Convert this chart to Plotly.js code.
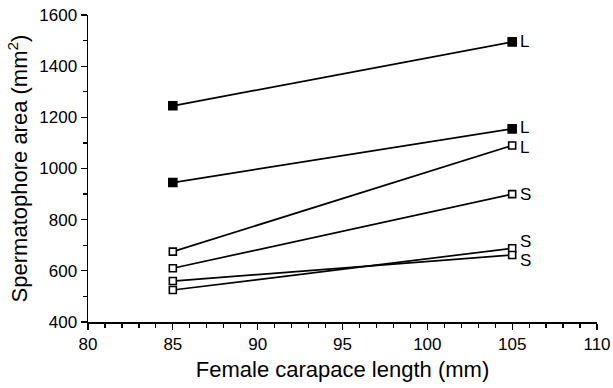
<!DOCTYPE html>
<html>
<head>
<meta charset="utf-8">
<script src="https://cdn.plot.ly/plotly-3.0.1.min.js"></script>
<style>html,body{margin:0;padding:0;background:#fff;}#chart{width:613px;height:388px;}</style>
</head>
<body>
<div id="chart"></div>
<script>
// Data
const xLengths = [85, 105];
const seriesNames = ["L1", "L2", "L3", "S1", "S2", "S3"];
const seriesLabels = ["L", "L", "L", "S", "S", "S"];
const seriesFilled = [true, true, false, false, false, false];
const areaL1 = [1245, 1495];
const areaL2 = [945, 1155];
const areaL3 = [675, 1090];
const areaS1 = [610, 900];
const areaS2 = [525, 688];
const areaS3 = [560, 662];
const seriesValues = [areaL1, areaL2, areaL3, areaS1, areaS2, areaS3];
const labelShift = [0, 1, -2, 0, 7, -6];

const FONT = "Liberation Sans, Arial, Helvetica, sans-serif";

const traces = seriesValues.map((vals, i) => ({
  type: "scatter",
  mode: "lines+markers",
  name: seriesNames[i],
  x: xLengths,
  y: vals,
  line: {color: "#000", width: 1.7},
  marker: {
    symbol: "square",
    size: seriesFilled[i] ? 8 : 7,
    color: seriesFilled[i] ? "#000" : "#fff",
    line: {color: "#000", width: 1.6}
  },
  showlegend: false,
  hoverinfo: "skip"
}));

const annotations = seriesValues.map((vals, i) => ({
  x: xLengths[1],
  y: vals[1],
  xref: "x",
  yref: "y",
  text: seriesLabels[i],
  showarrow: false,
  xanchor: "left",
  yanchor: "middle",
  xshift: 6,
  yshift: labelShift[i],
  font: {family: FONT, size: 17, color: "#000"}
}));

const layout = {
  width: 613,
  height: 388,
  margin: {l: 88, r: 16, t: 15, b: 66},
  paper_bgcolor: "#fff",
  plot_bgcolor: "#fff",
  font: {family: FONT, color: "#000"},
  xaxis: {
    range: [80, 110],
    tickvals: [80, 85, 90, 95, 100, 105, 110],
    ticks: "outside",
    ticklen: 6,
    tickwidth: 1.3,
    tickcolor: "#000",
    showline: true,
    linecolor: "#000",
    linewidth: 1.5,
    showgrid: false,
    zeroline: false,
    tickfont: {family: FONT, size: 17, color: "#000"},
    minor: {dtick: 1, ticks: "outside", ticklen: 4, tickwidth: 1.2, tickcolor: "#000", showgrid: false},
    title: {text: "Female carapace length (mm)", font: {family: FONT, size: 22, color: "#000"}, standoff: 8}
  },
  yaxis: {
    range: [400, 1600],
    tickvals: [400, 600, 800, 1000, 1200, 1400, 1600],
    ticks: "outside",
    ticklen: 6,
    tickwidth: 1.3,
    tickcolor: "#000",
    showline: true,
    linecolor: "#000",
    linewidth: 1.5,
    showgrid: false,
    zeroline: false,
    tickfont: {family: FONT, size: 17, color: "#000"},
    minor: {dtick: 100, ticks: "outside", ticklen: 4, tickwidth: 1.2, tickcolor: "#000", showgrid: false},
    title: {text: "Spermatophore area (mm<sup>2</sup>)", font: {family: FONT, size: 22, color: "#000"}, standoff: 5}
  },
  annotations: annotations
};

Plotly.newPlot("chart", traces, layout, {staticPlot: true, displayModeBar: false});
</script>
</body>
</html>
